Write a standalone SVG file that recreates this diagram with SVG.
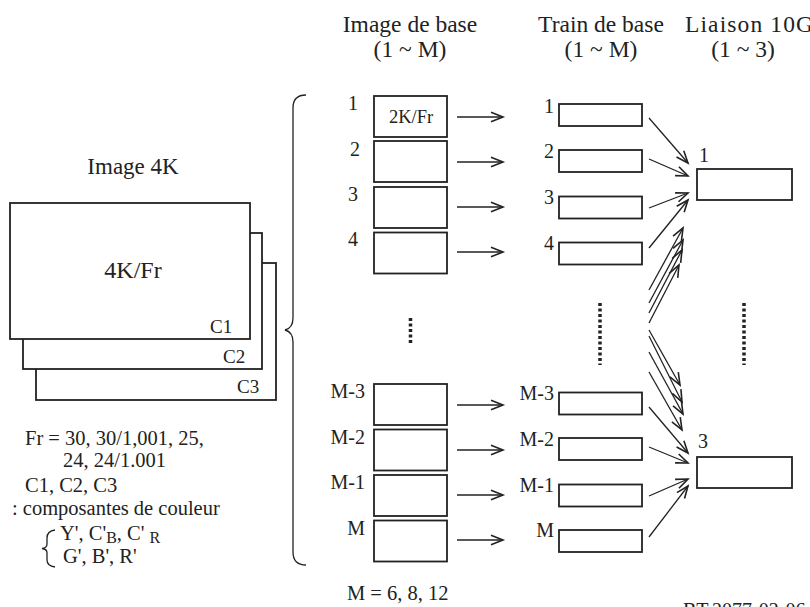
<svg xmlns="http://www.w3.org/2000/svg" width="810" height="607" viewBox="0 0 810 607">
<style>
text{font-family:"Liberation Serif","Times New Roman",serif;fill:#222}
.h{font-size:23.5px;text-anchor:middle}
.lb{font-size:20px}
.box{fill:#fff;stroke:#222;stroke-width:1.8}
.ln{stroke:#222;stroke-width:1.3;fill:none}
.dot{stroke:#222;stroke-width:3.5;stroke-dasharray:3,2.5;fill:none}
</style>
<defs>
<marker id="ah" markerUnits="userSpaceOnUse" viewBox="-14 -7 16 14" refX="0" refY="0" markerWidth="16" markerHeight="14" orient="auto" overflow="visible">
<path d="M-12,-4.8 L0,0 L-12,4.8" fill="none" stroke="#222" stroke-width="1.6"/>
</marker>
</defs>
<rect width="810" height="607" fill="#fff"/>

<g id="headers">
<text class="h" x="410" y="32">Image de base</text>
<text class="h" x="410" y="57">(1 ~ M)</text>
<text class="h" x="601" y="32">Train de base</text>
<text class="h" x="601" y="57">(1 ~ M)</text>
<text class="h" x="685" y="32" style="text-anchor:start" textLength="128" lengthAdjust="spacing">Liaison 10G</text>
<text class="h" x="743" y="57">(1 ~ 3)</text>
</g>

<g id="image4k">
<text x="133" y="174" style="font-size:23px;text-anchor:middle">Image 4K</text>
<rect class="box" x="36" y="263" width="240" height="137"/>
<rect class="box" x="23" y="233" width="239" height="136"/>
<rect class="box" x="10" y="203" width="240" height="136"/>
<text x="133" y="278" style="font-size:24px;text-anchor:middle">4K/Fr</text>
<text x="210" y="333" style="font-size:19px">C1</text>
<text x="223" y="363" style="font-size:19px">C2</text>
<text x="237" y="393" style="font-size:19px">C3</text>
</g>

<g id="notes">
<text x="25" y="445" style="font-size:20.5px">Fr = 30, 30/1,001, 25,</text>
<text x="63" y="467" style="font-size:20.5px">24, 24/1.001</text>
<text x="25" y="492" style="font-size:20.5px">C1, C2, C3</text>
<text x="12" y="515" style="font-size:20.5px">: composantes de couleur</text>
<path class="ln" d="M55,530 Q47,531 47,538 L47,544 Q47,548 42,548.5 Q47,549 47,553 L47,560 Q47,566 55,567"/>
<text x="60" y="540" style="font-size:20.5px">Y', C'<tspan dy="3" style="font-size:16px">B</tspan><tspan dy="-3">, C' </tspan><tspan dy="3" style="font-size:16px">R</tspan></text>
<text x="63" y="563" style="font-size:20.5px">G', B', R'</text>
</g>

<g id="brace">
<path class="ln" d="M306,95 Q293,95 293,108 L293,318 Q293,328 285,330 Q293,332 293,342 L293,552 Q293,565 306,565"/>
</g>

<g id="image-base">
<rect class="box" x="374" y="96" width="73" height="41"/>
<text x="411" y="123" style="font-size:18.5px;text-anchor:middle">2K/Fr</text>
<rect class="box" x="374" y="141" width="73" height="41"/>
<rect class="box" x="374" y="187" width="73" height="41"/>
<rect class="box" x="374" y="232.5" width="73" height="41"/>
<rect class="box" x="374" y="384" width="73" height="41"/>
<rect class="box" x="374" y="429.5" width="73" height="41"/>
<rect class="box" x="374" y="475" width="73" height="41"/>
<rect class="box" x="374" y="520.5" width="73" height="41"/>
<text class="lb" x="353" y="110" text-anchor="middle">1</text>
<text class="lb" x="355" y="156" text-anchor="middle">2</text>
<text class="lb" x="353" y="201" text-anchor="middle">3</text>
<text class="lb" x="353" y="246" text-anchor="middle">4</text>
<text class="lb" x="365" y="398" text-anchor="end">M-3</text>
<text class="lb" x="365" y="444" text-anchor="end">M-2</text>
<text class="lb" x="365" y="489" text-anchor="end">M-1</text>
<text class="lb" x="365" y="535" text-anchor="end">M</text>
<text x="347" y="600" style="font-size:20.5px">M = 6, 8, 12</text>
</g>

<g id="train-base">
<rect class="box" x="559" y="104" width="83" height="22"/>
<rect class="box" x="559" y="150" width="83" height="22"/>
<rect class="box" x="559" y="196.5" width="83" height="22"/>
<rect class="box" x="559" y="242.5" width="83" height="22"/>
<rect class="box" x="559" y="392.5" width="83" height="22"/>
<rect class="box" x="559" y="438" width="83" height="22"/>
<rect class="box" x="559" y="484.5" width="83" height="22"/>
<rect class="box" x="559" y="530" width="83" height="22"/>
<text class="lb" x="554" y="113" text-anchor="end">1</text>
<text class="lb" x="554" y="158" text-anchor="end">2</text>
<text class="lb" x="554" y="204" text-anchor="end">3</text>
<text class="lb" x="554" y="250" text-anchor="end">4</text>
<text class="lb" x="554" y="400" text-anchor="end">M-3</text>
<text class="lb" x="554" y="446" text-anchor="end">M-2</text>
<text class="lb" x="554" y="492" text-anchor="end">M-1</text>
<text class="lb" x="554" y="537" text-anchor="end">M</text>
</g>

<g id="liaison">
<rect class="box" x="697" y="169" width="95" height="31"/>
<rect class="box" x="697" y="457" width="95" height="31"/>
<text class="lb" x="699" y="162">1</text>
<text class="lb" x="698" y="448">3</text>
</g>

<g id="ellipses">
<line class="dot" x1="410.5" y1="318" x2="410.5" y2="344"/>
<line class="dot" x1="600" y1="303" x2="600" y2="365"/>
<line class="dot" x1="744" y1="303" x2="744" y2="365"/>
</g>

<g id="connectors" class="ln" marker-end="url(#ah)">
<line x1="457" y1="117" x2="503" y2="117"/>
<line x1="457" y1="162" x2="503" y2="162"/>
<line x1="457" y1="207" x2="503" y2="207"/>
<line x1="457" y1="252" x2="503" y2="252"/>
<line x1="457" y1="405" x2="503" y2="405"/>
<line x1="457" y1="450" x2="503" y2="450"/>
<line x1="457" y1="495" x2="503" y2="495"/>
<line x1="457" y1="540" x2="503" y2="540"/>

<line x1="649" y1="118" x2="688" y2="163"/>
<line x1="649" y1="159" x2="688" y2="176"/>
<line x1="649" y1="208" x2="688" y2="193"/>
<line x1="649" y1="248" x2="688" y2="200"/>
<line x1="649" y1="290" x2="683" y2="228"/>
<line x1="649" y1="303" x2="683" y2="240"/>
<line x1="649" y1="313" x2="682" y2="250"/>
<line x1="649" y1="323" x2="679" y2="265"/>

<line x1="649" y1="330" x2="680" y2="385"/>
<line x1="649" y1="336" x2="682" y2="402"/>
<line x1="649" y1="352" x2="683" y2="414"/>
<line x1="649" y1="372" x2="682" y2="430"/>
<line x1="649" y1="407" x2="688" y2="453"/>
<line x1="649" y1="447" x2="688" y2="463"/>
<line x1="649" y1="496" x2="688" y2="479"/>
<line x1="649" y1="537" x2="688" y2="486"/>
</g>

<text x="683" y="617" style="font-size:20px">BT.2077-02-06</text>
</svg>
